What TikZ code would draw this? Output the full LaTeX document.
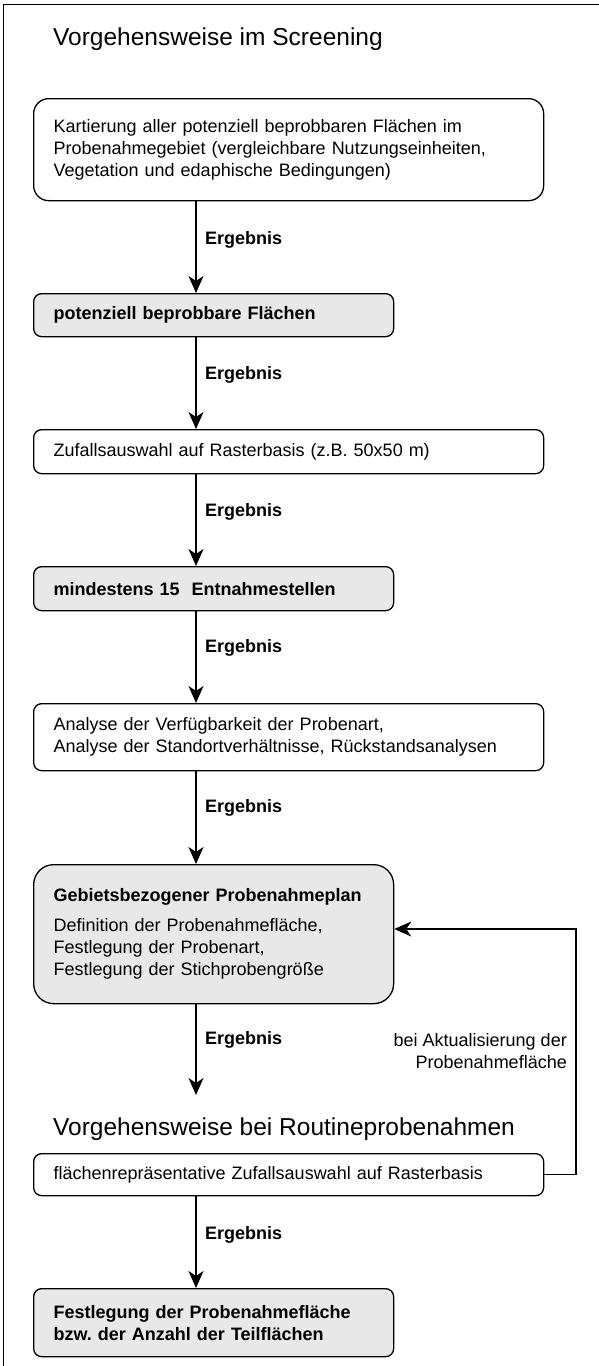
\documentclass[tikz,border=0pt]{standalone}
\usepackage{fontspec}
\setmainfont{Liberation Sans}
\usetikzlibrary{arrows.meta,calc}
\definecolor{boxgray}{RGB}{232,232,232}
\frenchspacing
\begin{document}
\begin{tikzpicture}[x=1pt,y=-1pt,
  box/.style={draw, line width=1.3pt, rounded corners=8pt, anchor=north west,
    inner xsep=20pt, inner ysep=0pt, align=left, font=\fontsize{18}{22}\selectfont},
  wide/.style={text width=470pt, minimum width=510pt},
  narrow/.style={text width=320pt, minimum width=360pt},
  grey/.style={fill=boxgray},
  arr/.style={line width=1.3pt, -{Stealth[length=17pt,width=15pt,inset=5pt]}},
  lbl/.style={font=\bfseries\fontsize{18}{22}\selectfont, anchor=west, inner sep=0pt},
  ttl/.style={font=\fontsize{24.5}{29}\selectfont, anchor=base west, inner sep=0pt}]
\useasboundingbox (0,0) rectangle (599,1366);
% frame
\draw[line width=1.3pt] (3.5,1366) -- (3.5,4.5) -- (599,4.5);
% titles
\node[ttl] (t1) at (53,45) {Vorgehensweise im Screening};
\node[ttl] (t2) at (53,1135) {Vorgehensweise bei Routineprobenahmen};
% boxes
\node[box, wide, rounded corners=15pt, minimum height=102pt] (b1) at (33,98)
  {Kartierung aller potenziell beprobbaren Flächen im\\Probenahmegebiet (vergleichbare Nutzungseinheiten,\\Vegetation und edaphische Bedingungen)};
\node[box, narrow, grey, minimum height=43pt, font=\bfseries\fontsize{18}{22}\selectfont] (b2) at (33,293)
  {potenziell beprobbare Flächen};
\node[box, wide, minimum height=44pt] (b3) at (33,429)
  {Zufallsauswahl auf Rasterbasis (z.B. 50x50 m)};
\node[box, narrow, grey, minimum height=44pt, font=\bfseries\fontsize{18}{22}\selectfont] (b4) at (33,566)
  {mindestens 15\ \ Entnahmestellen};
\node[box, wide, minimum height=67pt] (b5) at (33,703)
  {Analyse der Verfügbarkeit der Probenart,\\Analyse der Standortverhältnisse, Rückstandsanalysen};
\node[box, narrow, grey, rounded corners=20pt, minimum height=139pt] (b6) at (33,864)
  {\textbf{Gebietsbezogener Probenahmeplan}\\[8pt]Definition der Probenahmefläche,\\Festlegung der Probenart,\\Festlegung der Stichprobengröße};
\node[box, wide, minimum height=42pt] (b7) at (33,1153)
  {flächenrepräsentative Zufallsauswahl auf Rasterbasis};
\node[box, narrow, grey, minimum height=68pt, font=\bfseries\fontsize{18}{22}\selectfont] (b8) at (33,1288)
  {Festlegung der Probenahmefläche\\bzw. der Anzahl der Teilflächen};
% arrows
\coordinate (ax) at (196,0);
\coordinate (e6) at (196,1095);
\draw[arr] (b1.south -| ax) -- (b2.north -| ax);
\draw[arr] (b2.south -| ax) -- (b3.north -| ax);
\draw[arr] (b3.south -| ax) -- (b4.north -| ax);
\draw[arr] (b4.south -| ax) -- (b5.north -| ax);
\draw[arr] (b5.south -| ax) -- (b6.north -| ax);
\draw[arr] (b6.south -| ax) -- (e6);
\draw[arr] (b7.south -| ax) -- (b8.north -| ax);
% labels
\node[lbl] (l1) at (205,240) {Ergebnis};
\node[lbl] (l2) at (205,375) {Ergebnis};
\node[lbl] (l3) at (205,512) {Ergebnis};
\node[lbl] (l4) at (205,648) {Ergebnis};
\node[lbl] (l5) at (205,808) {Ergebnis};
\node[lbl] (l6) at (205,1040) {Ergebnis};
\node[lbl] (l7) at (205,1235) {Ergebnis};
% feedback
\coordinate (fb) at (576,929);
\draw[arr] (b7.east) -| (fb) -- (b6.east |- fb);
\node[anchor=east, inner sep=0pt, align=right, font=\fontsize{18}{22}\selectfont] (fbl) at (567,1051)
  {bei Aktualisierung der\\Probenahmefläche};
\end{tikzpicture}
\end{document}
